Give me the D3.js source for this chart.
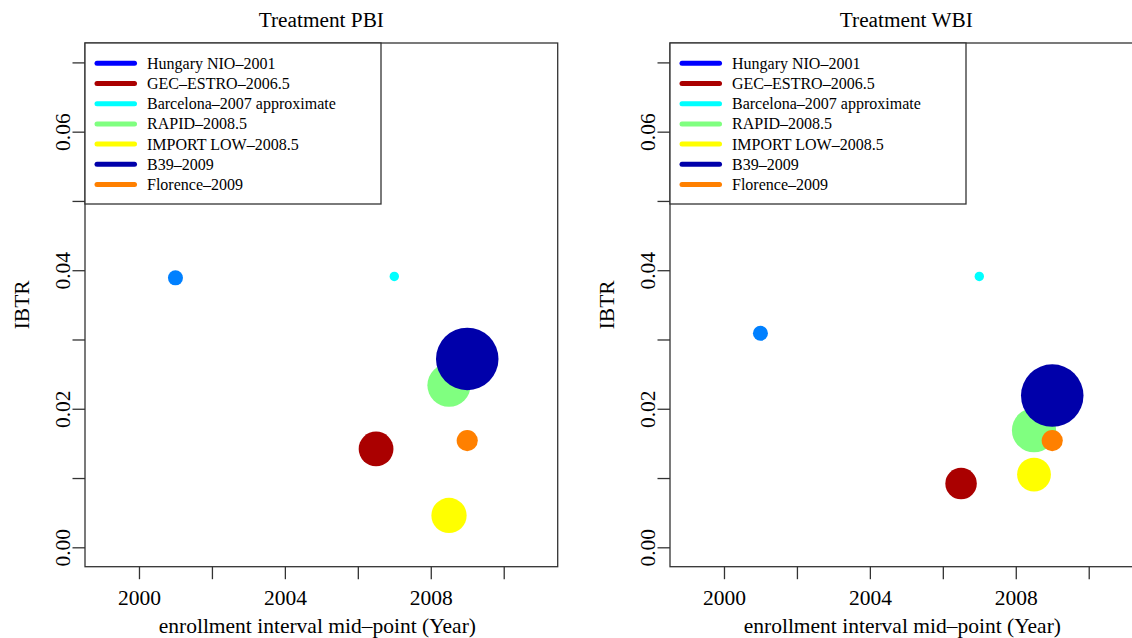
<!DOCTYPE html>
<html>
<head>
<meta charset="utf-8">
<script src="https://cdn.jsdelivr.net/npm/d3@7"></script>
<style>
  body { margin: 0; background: #fff; }
  svg text { font-family: "Liberation Serif", "Times New Roman", serif; fill: #000; }
</style>
</head>
<body>
<svg id="chart" width="1132" height="638"></svg>
<script>
// trials (legend order = drawing order)
const trials = ["Hungary NIO\u20132001", "GEC\u2013ESTRO\u20132006.5", "Barcelona\u20132007 approximate",
                "RAPID\u20132008.5", "IMPORT LOW\u20132008.5", "B39\u20132009", "Florence\u20132009"];
const midYear = [2001, 2006.5, 2007, 2008.5, 2008.5, 2009, 2009];
const ibtrPBI = [0.0389, 0.0142, 0.0391, 0.0234, 0.0046, 0.0272, 0.0154];
const ibtrWBI = [0.0309, 0.0092, 0.0391, 0.0169, 0.0105, 0.0219, 0.0154];
// relative bubble size (symbol cex)
const sizePBI = [1.6, 3.7, 1.0, 4.6, 3.75, 6.65, 2.25];
const sizeWBI = [1.6, 3.35, 1.0, 4.7, 3.6, 6.65, 2.25];
const pointColors = ["#0080FF", "#AA0000", "#00FFFF", "#80FF80", "#FFFF00", "#0000AA", "#FF8000"];
const legendColors = ["#0000FF", "#AA0000", "#00FFFF", "#80FF80", "#FFFF00", "#0000AA", "#FF8000"];
const xTicks = [2000, 2002, 2004, 2006, 2008, 2010];
const xLabels = [2000, 2004, 2008];
const yTicks = [0, 0.01, 0.02, 0.03, 0.04, 0.05, 0.06, 0.07];
const yLabels = [0, 0.02, 0.04, 0.06];
const xlim = [1999, 2011];
const ylim = [0, 0.07];

const svg = d3.select("#chart");
const frame = "#333";
const serif = '"Liberation Serif", "Times New Roman", serif';

function extend(lim) {
  const d = (lim[1] - lim[0]) * 0.04;
  return [lim[0] - d, lim[1] + d];
}

function panel(left, title, ibtr, sizes) {
  const w = 472.7, top = 43, bottom = 566.7;
  const x = d3.scaleLinear().domain(extend(xlim)).range([left, left + w]);
  const y = d3.scaleLinear().domain(extend(ylim)).range([bottom, top]);
  const r = d3.scaleLinear().domain([0, 1]).range([0, 4.7]);

  const g = svg.append("g");

  // points
  g.append("g")
    .selectAll("circle")
    .data(trials.map((t, i) => ({ t, i })))
    .join("circle")
      .attr("cx", d => x(midYear[d.i]))
      .attr("cy", d => y(ibtr[d.i]))
      .attr("r", d => r(sizes[d.i]))
      .attr("fill", d => pointColors[d.i]);

  // axes
  const ax = g.append("g")
    .attr("transform", `translate(0,${bottom})`)
    .call(d3.axisBottom(x).tickValues(xTicks).tickSize(12.5)
      .tickFormat(v => xLabels.includes(v) ? String(v) : ""));
  ax.attr("font-family", null).attr("font-size", null);
  ax.select(".domain").remove();
  ax.selectAll("line").attr("stroke", frame).attr("stroke-width", 1.3);
  ax.selectAll("text").attr("y", 38).attr("dy", null)
    .style("font-size", "21.5px").style("font-family", serif);

  const ay = g.append("g")
    .attr("transform", `translate(${left},0)`)
    .call(d3.axisLeft(y).tickValues(yTicks).tickSize(12.5)
      .tickFormat(v => yLabels.some(l => Math.abs(l - v) < 1e-9) ? d3.format(".2f")(v) : ""));
  ay.attr("font-family", null).attr("font-size", null);
  ay.select(".domain").remove();
  ay.selectAll("line").attr("stroke", frame).attr("stroke-width", 1.3);
  ay.selectAll("text")
    .attr("x", null).attr("dy", null)
    .attr("text-anchor", "middle")
    .attr("transform", "translate(-15,0) rotate(-90)")
    .style("font-size", "21.5px").style("font-family", serif);

  // box
  g.append("rect")
    .attr("x", left).attr("y", top)
    .attr("width", w).attr("height", bottom - top)
    .attr("fill", "none").attr("stroke", frame).attr("stroke-width", 1.3);

  // titles
  g.append("text")
    .attr("x", left + w / 2).attr("y", 27)
    .attr("text-anchor", "middle").style("font-size", "21.3px")
    .text(title);
  g.append("text")
    .attr("x", left + w / 2 - 4).attr("y", 633)
    .attr("text-anchor", "middle").style("font-size", "21.5px")
    .text("enrollment interval mid\u2013point (Year)");
  g.append("text")
    .attr("transform", `translate(${left - 56},${(top + bottom) / 2}) rotate(-90)`)
    .attr("text-anchor", "middle").style("font-size", "21.5px")
    .text("IBTR");

  // legend
  const lg = g.append("g").attr("transform", `translate(${left},${top})`);
  lg.append("rect")
    .attr("width", 296).attr("height", 161)
    .attr("fill", "#fff").attr("stroke", frame).attr("stroke-width", 1.3);
  const rows = lg.selectAll("g.row")
    .data(trials)
    .join("g")
      .attr("class", "row")
      .attr("transform", (d, i) => `translate(0,${20.3 + i * 20.2})`);
  rows.append("line")
    .attr("x1", 12).attr("x2", 49.5)
    .attr("stroke", (d, i) => legendColors[i])
    .attr("stroke-width", 5).attr("stroke-linecap", "round");
  rows.append("text")
    .attr("x", 62).attr("y", 5.5)
    .style("font-size", "16px")
    .text(d => d);
}

panel(85, "Treatment PBI", ibtrPBI, sizePBI);
panel(670, "Treatment WBI", ibtrWBI, sizeWBI);
</script>
</body>
</html>
